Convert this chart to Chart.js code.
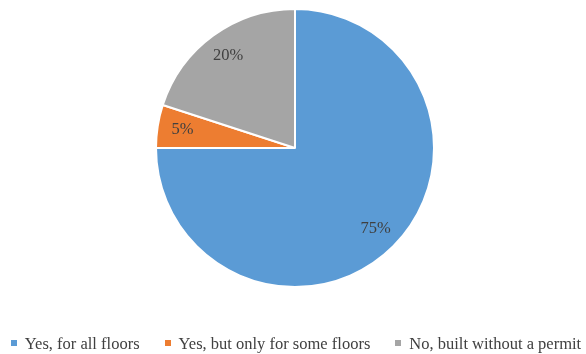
<!DOCTYPE html>
<html>
<head>
<meta charset="utf-8">
<script src="https://cdn.jsdelivr.net/npm/chart.js@4"></script>
<style>
  html, body { margin: 0; padding: 0; background: #fff; }
  #wrap { position: relative; width: 586px; height: 354px; }
  #legend {
    position: absolute; left: 6px; right: 0; top: 334px;
    display: flex; justify-content: center; gap: 25px;
    font-family: "Liberation Serif", "Times New Roman", serif;
    font-size: 16.5px; color: #404040; line-height: 20px;
  }
  #legend span.box { display: inline-block; width: 6px; height: 6px; margin-right: 8px; vertical-align: middle; position: relative; top: -2px; }
</style>
</head>
<body>
<div id="wrap">
  <canvas id="pieChart" width="586" height="354"></canvas>
  <div id="legend"></div>
</div>
<script>
const categories = ['Yes, for all floors', 'Yes, but only for some floors', 'No, built without a permit'];
const shares = [75, 5, 20];
const colors = ['#5B9BD5', '#ED7D31', '#A5A5A5'];

// etiquetas de porcentaje dentro de cada sector
const sliceLabels = {
  id: 'sliceLabels',
  afterDatasetsDraw(chart) {
    const ctx = chart.ctx;
    const meta = chart.getDatasetMeta(0);
    ctx.save();
    ctx.font = '16.5px "Liberation Serif", "Times New Roman", serif';
    ctx.fillStyle = '#404040';
    ctx.textAlign = 'center';
    ctx.textBaseline = 'middle';
    meta.data.forEach((arc, i) => {
      const mid = (arc.startAngle + arc.endAngle) / 2;
      const d = arc.outerRadius * 0.82;
      ctx.fillText(shares[i] + '%', arc.x + Math.cos(mid) * d, arc.y + Math.sin(mid) * d);
    });
    ctx.restore();
  }
};

const ctx = document.getElementById('pieChart').getContext('2d');
new Chart(ctx, {
  type: 'pie',
  data: {
    labels: categories,
    datasets: [{
      data: shares,
      backgroundColor: colors,
      borderColor: '#ffffff',
      borderWidth: 2,
      radius: 139,
    }],
  },
  options: {
    responsive: false,
    animation: false,
    layout: { padding: { top: 10, bottom: 68, left: 4 } },
    plugins: {
      legend: { display: false },
      tooltip: { enabled: false },
    },
  },
  plugins: [sliceLabels],
});

const legend = document.getElementById('legend');
categories.forEach((name, i) => {
  const item = document.createElement('div');
  const box = document.createElement('span');
  box.className = 'box';
  box.style.background = colors[i];
  item.appendChild(box);
  item.appendChild(document.createTextNode(name));
  legend.appendChild(item);
});
</script>
</body>
</html>
